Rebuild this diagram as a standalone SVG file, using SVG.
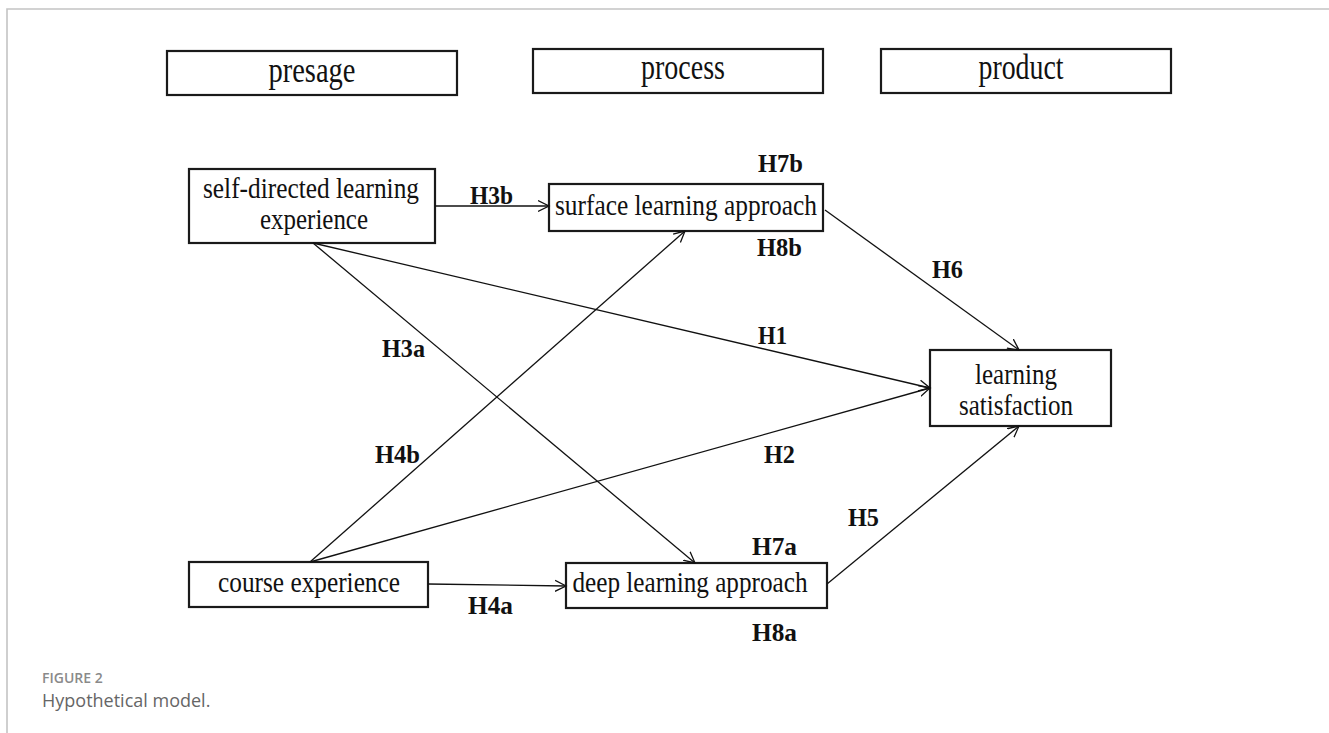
<svg xmlns="http://www.w3.org/2000/svg" width="1329" height="733" viewBox="0 0 1329 733">
<style>
.box{fill:#fff;stroke:#1a1a1a;stroke-width:2.2}
.nt{font-family:"Liberation Serif","Times New Roman",serif;font-size:30px;fill:#111;text-anchor:middle}
.ht{font-family:"Liberation Serif","Times New Roman",serif;font-size:35px;fill:#111;text-anchor:middle}
.lb{font-family:"Liberation Serif","Times New Roman",serif;font-size:26px;font-weight:bold;fill:#111}
.cn{stroke:#111;stroke-width:1.3;fill:none;marker-end:url(#arr)}
.frame{stroke:#c4c4c4;stroke-width:1.6;fill:none}
</style>
<defs>
<marker id="arr" markerUnits="userSpaceOnUse" markerWidth="14" markerHeight="14" refX="11" refY="6" orient="auto" viewBox="0 0 14 12">
<path d="M0,0.5 L11,6 L0,11.5" fill="none" stroke="#111" stroke-width="1.3"/>
</marker>
</defs>
<rect width="1329" height="733" fill="#fff"/>
<path class="frame" d="M7,733 L7,9 L1329,9"/>

<g id="presage">
<rect class="box" x="167" y="51" width="290" height="44"/>
<text class="ht" x="312" y="82" textLength="87" lengthAdjust="spacingAndGlyphs">presage</text>
</g>
<g id="process">
<rect class="box" x="533" y="49" width="290" height="44"/>
<text class="ht" x="683" y="79" textLength="84" lengthAdjust="spacingAndGlyphs">process</text>
</g>
<g id="product">
<rect class="box" x="881" y="49" width="290" height="44"/>
<text class="ht" x="1021" y="79" textLength="85" lengthAdjust="spacingAndGlyphs">product</text>
</g>

<g id="self-directed">
<rect class="box" x="189" y="169" width="246" height="74"/>
<text class="nt" x="311" y="198" textLength="216" lengthAdjust="spacingAndGlyphs">self-directed learning</text>
<text class="nt" x="314" y="229" textLength="108" lengthAdjust="spacingAndGlyphs">experience</text>
</g>
<g id="surface">
<rect class="box" x="549" y="184" width="274" height="47"/>
<text class="nt" x="686" y="215" textLength="262" lengthAdjust="spacingAndGlyphs">surface learning approach</text>
</g>
<g id="course">
<rect class="box" x="189" y="562" width="239" height="45"/>
<text class="nt" x="309" y="592" textLength="182" lengthAdjust="spacingAndGlyphs">course experience</text>
</g>
<g id="deep">
<rect class="box" x="566" y="563" width="261" height="45"/>
<text class="nt" x="690" y="592" textLength="235" lengthAdjust="spacingAndGlyphs">deep learning approach</text>
</g>
<g id="satisfaction">
<rect class="box" x="930" y="350" width="181" height="76"/>
<text class="nt" x="1016" y="384" textLength="82" lengthAdjust="spacingAndGlyphs">learning</text>
<text class="nt" x="1016" y="415" textLength="114" lengthAdjust="spacingAndGlyphs">satisfaction</text>
</g>

<g id="connectors">
<line class="cn" x1="435" y1="206" x2="549" y2="206"/>
<line class="cn" x1="313" y1="243" x2="695" y2="563"/>
<line class="cn" x1="313" y1="243" x2="930" y2="388"/>
<line class="cn" x1="310" y1="562" x2="685" y2="231"/>
<line class="cn" x1="310" y1="562" x2="930" y2="388"/>
<line class="cn" x1="428" y1="584" x2="566" y2="586"/>
<line class="cn" x1="825" y1="210" x2="1019" y2="350"/>
<line class="cn" x1="827" y1="584" x2="1019" y2="426"/>
</g>

<g id="labels">
<text class="lb" x="470" y="204" textLength="43" lengthAdjust="spacingAndGlyphs">H3b</text>
<text class="lb" x="758" y="172" textLength="45" lengthAdjust="spacingAndGlyphs">H7b</text>
<text class="lb" x="757" y="256" textLength="45" lengthAdjust="spacingAndGlyphs">H8b</text>
<text class="lb" x="932" y="278" textLength="31" lengthAdjust="spacingAndGlyphs">H6</text>
<text class="lb" x="758" y="344" textLength="29" lengthAdjust="spacingAndGlyphs">H1</text>
<text class="lb" x="382" y="357" textLength="43" lengthAdjust="spacingAndGlyphs">H3a</text>
<text class="lb" x="375" y="463" textLength="45" lengthAdjust="spacingAndGlyphs">H4b</text>
<text class="lb" x="764" y="463" textLength="31" lengthAdjust="spacingAndGlyphs">H2</text>
<text class="lb" x="848" y="526" textLength="31" lengthAdjust="spacingAndGlyphs">H5</text>
<text class="lb" x="752" y="555" textLength="45" lengthAdjust="spacingAndGlyphs">H7a</text>
<text class="lb" x="468" y="614" textLength="45" lengthAdjust="spacingAndGlyphs">H4a</text>
<text class="lb" x="752" y="641" textLength="45" lengthAdjust="spacingAndGlyphs">H8a</text>
</g>

<g id="caption">
<text x="42" y="683" font-family="'Open Sans','Noto Sans',sans-serif" font-size="14" font-weight="600" fill="#8a8a8a">FIGURE 2</text>
<text x="42" y="707" font-family="'Open Sans','Noto Sans',sans-serif" font-size="18" fill="#666">Hypothetical model.</text>
</g>
</svg>
